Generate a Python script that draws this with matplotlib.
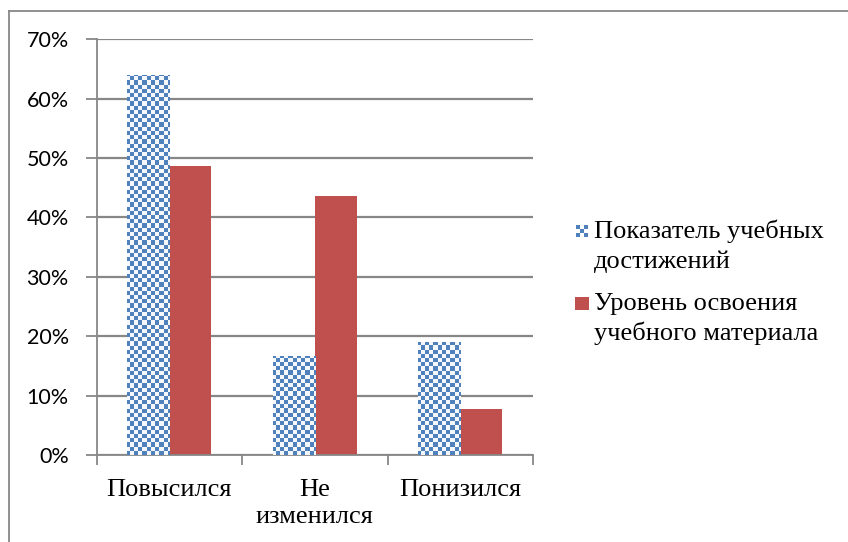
import numpy as np
import matplotlib
matplotlib.use("Agg")
import matplotlib.pyplot as plt
from matplotlib.patches import Rectangle
from matplotlib.lines import Line2D

categories = ["Повысился", "Не\nизменился", "Понизился"]
series_names = ["Показатель учебных\nдостижений", "Уровень освоения\nучебного материала"]
achievement = [64.0, 16.7, 19.1]
mastery = [48.7, 43.6, 7.8]
yticks = [0, 10, 20, 30, 40, 50, 60, 70]

BLUE = "#4F81BD"
RED = "#C0504D"
GRID = "#878787"

W, H = 848, 542
fig = plt.figure(figsize=(W / 100, H / 100), dpi=100)
ax = fig.add_axes([96.5 / W, (H - 455) / H, 436.5 / W, 415.7 / H])

x = np.arange(len(categories)) + 0.5
w = 0.289

blue_bars = ax.bar(x - w / 2, achievement, width=w, color="white", edgecolor="none", zorder=2)
red_bars = ax.bar(x + w / 2, mastery, width=w, color=RED, edgecolor="none", zorder=2)

# checkerboard texture for the first series, clipped to each bar
ncols, nrows = 105, 99
ii, jj = np.meshgrid(np.arange(ncols), np.arange(nrows))
checker = (ii + jj) % 2
rgb_blue = np.array(matplotlib.colors.to_rgb(BLUE))
rgb_light = np.array([0.96, 0.97, 0.99])
tex = np.where(checker[..., None] == 1, rgb_blue, rgb_light)
for bar in blue_bars:
    im = ax.imshow(tex, extent=(0, 3, 0, 70), origin="lower", aspect="auto",
                   interpolation="nearest", zorder=3)
    im.set_clip_path(bar)
ax.set_xlim(0, 3)
ax.set_ylim(0, 70)

ax.set_yticks(yticks)
ax.set_yticklabels([f"{v}%" for v in yticks], fontfamily="Lato", fontsize=15.5)
ax.yaxis.grid(True, color=GRID, linewidth=1.6, zorder=0)
ax.set_axisbelow(True)

ax.set_xticks([0, 1, 2, 3])
ax.set_xticklabels([])
ax.set_xticks(x, minor=True)
ax.set_xticklabels(categories, minor=True, fontfamily="Liberation Serif", fontsize=19,
                   linespacing=1.3)
ax.tick_params(axis="x", which="minor", length=0, pad=17)
ax.tick_params(axis="x", which="major", length=7, width=1.3, color=GRID)
ax.tick_params(axis="y", length=8, width=1.3, color=GRID, pad=12)

for s in ["top", "right"]:
    ax.spines[s].set_visible(False)
for s in ["left", "bottom"]:
    ax.spines[s].set_color(GRID)
    ax.spines[s].set_linewidth(1.3)


def px(xp, yp):
    """Pixel position (from top-left) to figure fraction."""
    return xp / W, 1 - yp / H


# legend: key swatches and two-line labels
text_x = 594
baselines = [(238, 268), (310, 340)]
for name, (b1, b2) in zip(series_names, baselines):
    for line, b in zip(name.split("\n"), (b1, b2)):
        fig.text(*px(text_x, b), line, ha="left", va="baseline",
                 fontfamily="Liberation Serif", fontsize=19)

# checker swatch
sw = 12
cx0, cy0 = 576, 237
n = 3
c = sw / n
fig.add_artist(Rectangle(px(cx0, cy0), sw / W, sw / H, transform=fig.transFigure,
                         facecolor="white", edgecolor="none"))
for a in range(n):
    for b in range(n):
        if (a + b) % 2 == 0:
            fig.add_artist(Rectangle(px(cx0 + a * c, cy0 - b * c), c / W, c / H,
                                     transform=fig.transFigure, facecolor=BLUE, edgecolor="none"))
# solid swatch
fig.add_artist(Rectangle(px(575, 310), 14 / W, 13 / H, transform=fig.transFigure,
                         facecolor=RED, edgecolor="none"))

# outer frame
fig.add_artist(Line2D([8.5 / W, 8.5 / W], [0, 1 - 10.5 / H], transform=fig.transFigure,
                      color=GRID, linewidth=1.3))
fig.add_artist(Line2D([8.5 / W, 1], [1 - 10.5 / H, 1 - 10.5 / H], transform=fig.transFigure,
                      color=GRID, linewidth=1.3))

fig.savefig("out.png", dpi=100)
